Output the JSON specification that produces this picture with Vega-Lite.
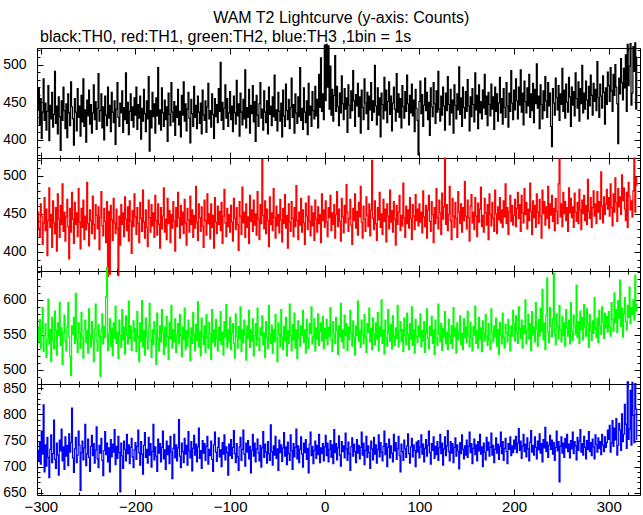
{
"$schema":"https://vega.github.io/schema/vega-lite/v6.json",
"background":"white",
"padding":{"left":2,"top":9,"right":3,"bottom":2},
"spacing":0,
"bounds":"flush",
"title":{"text":"WAM T2 Lightcurve (y-axis: Counts)","anchor":"start","frame":"bounds","dx":211,"font":"Liberation Sans","fontSize":16,"fontWeight":"normal","color":"#000000","offset":3},
"config":{"font":"Liberation Sans","view":{"stroke":"#000000","strokeWidth":1},"axis":{"labelFont":"Liberation Sans","labelColor":"#000000","tickColor":"#000000","tickWidth":1,"grid":false,"domain":false},"concat":{"spacing":0}},
"data":{"values":[
{"t":-303,"a":441,"b":452,"c":561,"d":731},{"t":-302,"a":468,"b":431,"c":540,"d":712},{"t":-301,"a":420,"b":419,"c":572,"d":748},{"t":-300,"a":455,"b":463,"c":531,"d":705},{"t":-299,"a":402,"b":447,"c":553,"d":768},{"t":-298,"a":437,"b":410,"c":589,"d":724},{"t":-297,"a":481,"b":438,"c":526,"d":818},{"t":-296,"a":426,"b":471,"c":549,"d":690},{"t":-295,"a":449,"b":428,"c":566,"d":742},{"t":-294,"a":413,"b":456,"c":518,"d":701},
{"t":-293,"a":438,"b":395,"c":544,"d":756},{"t":-292,"a":472,"b":441,"c":601,"d":718},{"t":-291,"a":399,"b":484,"c":537,"d":679},{"t":-290,"a":446,"b":432,"c":558,"d":733},{"t":-289,"a":428,"b":449,"c":512,"d":761},{"t":-288,"a":463,"b":406,"c":575,"d":708},{"t":-287,"a":417,"b":467,"c":543,"d":725},{"t":-286,"a":434,"b":438,"c":530,"d":789},{"t":-285,"a":491,"b":424,"c":584,"d":714},{"t":-284,"a":422,"b":458,"c":556,"d":697},
{"t":-283,"a":445,"b":401,"c":521,"d":745},{"t":-282,"a":408,"b":476,"c":567,"d":722},{"t":-281,"a":457,"b":443,"c":549,"d":684},{"t":-280,"a":431,"b":419,"c":596,"d":751},{"t":-279,"a":386,"b":461,"c":535,"d":730},{"t":-278,"a":452,"b":436,"c":560,"d":772},{"t":-277,"a":426,"b":489,"c":508,"d":711},{"t":-276,"a":470,"b":427,"c":553,"d":738},{"t":-275,"a":439,"b":452,"c":578,"d":695},{"t":-274,"a":415,"b":414,"c":542,"d":757},
{"t":-273,"a":448,"b":446,"c":527,"d":720},{"t":-272,"a":403,"b":469,"c":561,"d":741},{"t":-271,"a":461,"b":433,"c":596,"d":702},{"t":-270,"a":436,"b":391,"c":547,"d":763},{"t":-269,"a":419,"b":457,"c":519,"d":728},{"t":-268,"a":477,"b":426,"c":492,"d":746},{"t":-267,"a":444,"b":478,"c":563,"d":812},{"t":-266,"a":428,"b":443,"c":551,"d":717},{"t":-265,"a":393,"b":411,"c":575,"d":689},{"t":-264,"a":455,"b":465,"c":538,"d":734},
{"t":-263,"a":437,"b":436,"c":609,"d":756},{"t":-262,"a":412,"b":451,"c":544,"d":708},{"t":-261,"a":468,"b":420,"c":525,"d":722},{"t":-260,"a":430,"b":483,"c":567,"d":768},{"t":-259,"a":445,"b":439,"c":553,"d":741},{"t":-258,"a":405,"b":404,"c":531,"d":655},{"t":-257,"a":459,"b":457,"c":582,"d":727},{"t":-256,"a":424,"b":432,"c":546,"d":749},{"t":-255,"a":481,"b":468,"c":517,"d":713},{"t":-254,"a":418,"b":416,"c":558,"d":736},
{"t":-253,"a":440,"b":447,"c":571,"d":781},{"t":-252,"a":397,"b":429,"c":539,"d":702},{"t":-251,"a":453,"b":491,"c":556,"d":724},{"t":-250,"a":432,"b":437,"c":524,"d":753},{"t":-249,"a":466,"b":408,"c":587,"d":718},{"t":-248,"a":421,"b":455,"c":550,"d":691},{"t":-247,"a":447,"b":441,"c":533,"d":739},{"t":-246,"a":409,"b":424,"c":569,"d":760},{"t":-245,"a":436,"b":473,"c":545,"d":721},{"t":-244,"a":473,"b":436,"c":512,"d":744},
{"t":-243,"a":427,"b":417,"c":558,"d":707},{"t":-242,"a":451,"b":462,"c":594,"d":732},{"t":-241,"a":414,"b":448,"c":541,"d":776},{"t":-240,"a":442,"b":430,"c":527,"d":715},{"t":-239,"a":488,"b":459,"c":565,"d":698},{"t":-238,"a":425,"b":403,"c":548,"d":741},{"t":-237,"a":439,"b":445,"c":491,"d":726},{"t":-236,"a":461,"b":479,"c":556,"d":754},{"t":-235,"a":416,"b":434,"c":580,"d":712},{"t":-234,"a":444,"b":421,"c":537,"d":683},
{"t":-233,"a":400,"b":457,"c":562,"d":731},{"t":-232,"a":458,"b":440,"c":546,"d":767},{"t":-231,"a":433,"b":412,"c":604,"d":723},{"t":-230,"a":419,"b":466,"c":646,"d":745},{"t":-229,"a":470,"b":368,"c":528,"d":709},{"t":-228,"a":429,"b":453,"c":551,"d":736},{"t":-227,"a":446,"b":371,"c":573,"d":690},{"t":-226,"a":411,"b":461,"c":534,"d":752},{"t":-225,"a":463,"b":442,"c":559,"d":719},{"t":-224,"a":437,"b":415,"c":520,"d":743},
{"t":-223,"a":423,"b":470,"c":567,"d":728},{"t":-222,"a":452,"b":438,"c":545,"d":771},{"t":-221,"a":394,"b":424,"c":591,"d":704},{"t":-220,"a":441,"b":456,"c":538,"d":739},{"t":-219,"a":476,"b":431,"c":554,"d":716},{"t":-218,"a":430,"b":369,"c":516,"d":758},{"t":-217,"a":418,"b":447,"c":571,"d":727},{"t":-216,"a":449,"b":409,"c":549,"d":652},{"t":-215,"a":436,"b":462,"c":532,"d":745},{"t":-214,"a":465,"b":436,"c":586,"d":721},
{"t":-213,"a":410,"b":451,"c":543,"d":697},{"t":-212,"a":443,"b":420,"c":561,"d":749},{"t":-211,"a":427,"b":472,"c":523,"d":733},{"t":-210,"a":489,"b":443,"c":577,"d":711},{"t":-209,"a":422,"b":428,"c":550,"d":762},{"t":-208,"a":450,"b":459,"c":537,"d":725},{"t":-207,"a":407,"b":414,"c":598,"d":742},{"t":-206,"a":438,"b":467,"c":545,"d":706},{"t":-205,"a":461,"b":440,"c":563,"d":737},{"t":-204,"a":426,"b":398,"c":528,"d":754},
{"t":-203,"a":444,"b":454,"c":555,"d":719},{"t":-202,"a":417,"b":433,"c":570,"d":698},{"t":-201,"a":456,"b":476,"c":541,"d":732},{"t":-200,"a":433,"b":446,"c":559,"d":746},{"t":-199,"a":470,"b":423,"c":526,"d":714},{"t":-198,"a":414,"b":458,"c":583,"d":739},{"t":-197,"a":447,"b":437,"c":548,"d":770},{"t":-196,"a":429,"b":412,"c":512,"d":727},{"t":-195,"a":458,"b":465,"c":567,"d":703},{"t":-194,"a":401,"b":444,"c":541,"d":748},
{"t":-193,"a":442,"b":427,"c":599,"d":724},{"t":-192,"a":425,"b":481,"c":533,"d":686},{"t":-191,"a":467,"b":439,"c":556,"d":741},{"t":-190,"a":435,"b":418,"c":521,"d":765},{"t":-189,"a":411,"b":455,"c":574,"d":718},{"t":-188,"a":452,"b":432,"c":547,"d":733},{"t":-187,"a":428,"b":407,"c":530,"d":707},{"t":-186,"a":484,"b":468,"c":562,"d":756},{"t":-185,"a":385,"b":445,"c":595,"d":722},{"t":-184,"a":439,"b":426,"c":543,"d":744},
{"t":-183,"a":416,"b":462,"c":518,"d":699},{"t":-182,"a":463,"b":434,"c":557,"d":729},{"t":-181,"a":431,"b":451,"c":536,"d":781},{"t":-180,"a":448,"b":419,"c":569,"d":713},{"t":-179,"a":409,"b":474,"c":552,"d":738},{"t":-178,"a":456,"b":441,"c":508,"d":720},{"t":-177,"a":432,"b":422,"c":581,"d":691},{"t":-176,"a":496,"b":463,"c":545,"d":753},{"t":-175,"a":421,"b":436,"c":527,"d":726},{"t":-174,"a":440,"b":405,"c":563,"d":744},
{"t":-173,"a":413,"b":458,"c":540,"d":709},{"t":-172,"a":469,"b":430,"c":586,"d":737},{"t":-171,"a":436,"b":447,"c":553,"d":768},{"t":-170,"a":418,"b":484,"c":522,"d":715},{"t":-169,"a":453,"b":426,"c":561,"d":732},{"t":-168,"a":427,"b":443,"c":534,"d":695},{"t":-167,"a":444,"b":416,"c":576,"d":749},{"t":-166,"a":398,"b":470,"c":548,"d":723},{"t":-165,"a":462,"b":437,"c":515,"d":740},{"t":-164,"a":434,"b":454,"c":568,"d":706},
{"t":-163,"a":419,"b":412,"c":544,"d":758},{"t":-162,"a":476,"b":449,"c":592,"d":728},{"t":-161,"a":437,"b":431,"c":531,"d":677},{"t":-160,"a":424,"b":466,"c":557,"d":735},{"t":-159,"a":451,"b":440,"c":540,"d":762},{"t":-158,"a":406,"b":401,"c":573,"d":717},{"t":-157,"a":445,"b":458,"c":525,"d":742},{"t":-156,"a":430,"b":433,"c":550,"d":711},{"t":-155,"a":467,"b":478,"c":566,"d":736},{"t":-154,"a":420,"b":445,"c":537,"d":790},
{"t":-153,"a":438,"b":418,"c":579,"d":720},{"t":-152,"a":404,"b":461,"c":549,"d":698},{"t":-151,"a":459,"b":435,"c":519,"d":745},{"t":-150,"a":433,"b":452,"c":561,"d":729},{"t":-149,"a":477,"b":424,"c":543,"d":708},{"t":-148,"a":425,"b":469,"c":588,"d":754},{"t":-147,"a":448,"b":438,"c":529,"d":724},{"t":-146,"a":412,"b":409,"c":556,"d":741},{"t":-145,"a":441,"b":457,"c":534,"d":703},{"t":-144,"a":463,"b":442,"c":571,"d":767},
{"t":-143,"a":429,"b":426,"c":547,"d":730},{"t":-142,"a":396,"b":473,"c":513,"d":717},{"t":-141,"a":454,"b":436,"c":560,"d":748},{"t":-140,"a":435,"b":455,"c":538,"d":692},{"t":-139,"a":418,"b":419,"c":582,"d":735},{"t":-138,"a":471,"b":448,"c":551,"d":760},{"t":-137,"a":430,"b":431,"c":527,"d":722},{"t":-136,"a":446,"b":486,"c":565,"d":743},{"t":-135,"a":415,"b":439,"c":542,"d":709},{"t":-134,"a":458,"b":415,"c":597,"d":738},
{"t":-133,"a":437,"b":463,"c":533,"d":774},{"t":-132,"a":422,"b":445,"c":555,"d":716},{"t":-131,"a":449,"b":427,"c":520,"d":731},{"t":-130,"a":408,"b":459,"c":574,"d":697},{"t":-129,"a":466,"b":434,"c":548,"d":750},{"t":-128,"a":433,"b":406,"c":536,"d":726},{"t":-127,"a":426,"b":468,"c":563,"d":744},{"t":-126,"a":452,"b":441,"c":525,"d":712},{"t":-125,"a":410,"b":422,"c":579,"d":739},{"t":-124,"a":444,"b":476,"c":546,"d":758},
{"t":-123,"a":475,"b":437,"c":531,"d":705},{"t":-122,"a":428,"b":450,"c":568,"d":733},{"t":-121,"a":439,"b":417,"c":552,"d":721},{"t":-120,"a":417,"b":463,"c":515,"d":749},{"t":-119,"a":461,"b":432,"c":586,"d":714},{"t":-118,"a":434,"b":448,"c":540,"d":691},{"t":-117,"a":402,"b":405,"c":557,"d":742},{"t":-116,"a":455,"b":471,"c":534,"d":766},{"t":-115,"a":431,"b":439,"c":572,"d":728},{"t":-114,"a":447,"b":424,"c":545,"d":710},
{"t":-113,"a":423,"b":460,"c":527,"d":737},{"t":-112,"a":468,"b":436,"c":561,"d":755},{"t":-111,"a":438,"b":453,"c":542,"d":719},{"t":-110,"a":503,"b":428,"c":583,"d":732},{"t":-109,"a":426,"b":465,"c":536,"d":700},{"t":-108,"a":450,"b":411,"c":554,"d":746},{"t":-107,"a":414,"b":447,"c":521,"d":724},{"t":-106,"a":442,"b":482,"c":569,"d":761},{"t":-105,"a":473,"b":438,"c":547,"d":713},{"t":-104,"a":429,"b":420,"c":593,"d":738},
{"t":-103,"a":455,"b":457,"c":532,"d":727},{"t":-102,"a":418,"b":433,"c":558,"d":684},{"t":-101,"a":436,"b":449,"c":540,"d":743},{"t":-100,"a":464,"b":426,"c":575,"d":721},{"t":-99,"a":427,"b":461,"c":529,"d":752},{"t":-98,"a":445,"b":439,"c":553,"d":716},{"t":-97,"a":411,"b":414,"c":566,"d":737},{"t":-96,"a":458,"b":470,"c":538,"d":769},{"t":-95,"a":436,"b":444,"c":517,"d":725},{"t":-94,"a":421,"b":429,"c":580,"d":708},
{"t":-93,"a":479,"b":458,"c":548,"d":744},{"t":-92,"a":432,"b":436,"c":531,"d":719},{"t":-91,"a":448,"b":402,"c":562,"d":693},{"t":-90,"a":405,"b":466,"c":544,"d":738},{"t":-89,"a":462,"b":447,"c":590,"d":756},{"t":-88,"a":437,"b":423,"c":526,"d":712},{"t":-87,"a":420,"b":485,"c":557,"d":733},{"t":-86,"a":454,"b":438,"c":539,"d":770},{"t":-85,"a":428,"b":452,"c":571,"d":724},{"t":-84,"a":493,"b":419,"c":550,"d":701},
{"t":-83,"a":416,"b":463,"c":514,"d":745},{"t":-82,"a":443,"b":432,"c":563,"d":728},{"t":-81,"a":430,"b":446,"c":545,"d":750},{"t":-80,"a":467,"b":411,"c":585,"d":715},{"t":-79,"a":409,"b":474,"c":532,"d":739},{"t":-78,"a":446,"b":440,"c":557,"d":688},{"t":-77,"a":435,"b":455,"c":541,"d":731},{"t":-76,"a":472,"b":427,"c":573,"d":762},{"t":-75,"a":424,"b":468,"c":520,"d":720},{"t":-74,"a":451,"b":435,"c":549,"d":745},
{"t":-73,"a":398,"b":450,"c":566,"d":709},{"t":-72,"a":459,"b":422,"c":535,"d":734},{"t":-71,"a":433,"b":479,"c":588,"d":753},{"t":-70,"a":418,"b":443,"c":544,"d":726},{"t":-69,"a":448,"b":416,"c":528,"d":711},{"t":-68,"a":476,"b":462,"c":560,"d":741},{"t":-67,"a":429,"b":437,"c":549,"d":699},{"t":-66,"a":441,"b":521,"c":577,"d":736},{"t":-65,"a":413,"b":448,"c":536,"d":767},{"t":-64,"a":465,"b":430,"c":553,"d":718},
{"t":-63,"a":437,"b":467,"c":518,"d":743},{"t":-62,"a":423,"b":424,"c":569,"d":728},{"t":-61,"a":452,"b":456,"c":546,"d":707},{"t":-60,"a":408,"b":441,"c":531,"d":748},{"t":-59,"a":470,"b":407,"c":592,"d":725},{"t":-58,"a":434,"b":472,"c":551,"d":712},{"t":-57,"a":445,"b":436,"c":538,"d":780},{"t":-56,"a":419,"b":451,"c":564,"d":729},{"t":-55,"a":457,"b":428,"c":524,"d":703},{"t":-54,"a":431,"b":483,"c":557,"d":740},
{"t":-53,"a":486,"b":445,"c":540,"d":722},{"t":-52,"a":426,"b":418,"c":579,"d":758},{"t":-51,"a":440,"b":460,"c":545,"d":716},{"t":-50,"a":412,"b":434,"c":512,"d":734},{"t":-49,"a":463,"b":449,"c":567,"d":693},{"t":-48,"a":438,"b":425,"c":550,"d":751},{"t":-47,"a":425,"b":469,"c":533,"d":727},{"t":-46,"a":449,"b":442,"c":586,"d":742},{"t":-45,"a":404,"b":413,"c":547,"d":710},{"t":-44,"a":466,"b":457,"c":529,"d":736},
{"t":-43,"a":432,"b":437,"c":562,"d":765},{"t":-42,"a":418,"b":475,"c":541,"d":720},{"t":-41,"a":474,"b":431,"c":575,"d":738},{"t":-40,"a":439,"b":448,"c":520,"d":704},{"t":-39,"a":427,"b":405,"c":556,"d":747},{"t":-38,"a":454,"b":463,"c":538,"d":725},{"t":-37,"a":415,"b":439,"c":594,"d":712},{"t":-36,"a":443,"b":427,"c":549,"d":761},{"t":-35,"a":482,"b":466,"c":527,"d":730},{"t":-34,"a":430,"b":444,"c":565,"d":695},
{"t":-33,"a":447,"b":420,"c":543,"d":744},{"t":-32,"a":409,"b":458,"c":581,"d":719},{"t":-31,"a":461,"b":433,"c":531,"d":737},{"t":-30,"a":436,"b":487,"c":557,"d":772},{"t":-29,"a":422,"b":441,"c":516,"d":715},{"t":-28,"a":457,"b":416,"c":570,"d":740},{"t":-27,"a":431,"b":452,"c":546,"d":708},{"t":-26,"a":496,"b":435,"c":534,"d":733},{"t":-25,"a":426,"b":470,"c":563,"d":757},{"t":-24,"a":442,"b":426,"c":549,"d":724},
{"t":-23,"a":414,"b":455,"c":585,"d":699},{"t":-22,"a":469,"b":438,"c":539,"d":745},{"t":-21,"a":437,"b":410,"c":557,"d":727},{"t":-20,"a":423,"b":464,"c":524,"d":752},{"t":-19,"a":452,"b":447,"c":572,"d":714},{"t":-18,"a":407,"b":429,"c":545,"d":735},{"t":-17,"a":475,"b":473,"c":531,"d":688},{"t":-16,"a":433,"b":440,"c":566,"d":743},{"t":-15,"a":445,"b":421,"c":552,"d":766},{"t":-14,"a":418,"b":460,"c":590,"d":721},
{"t":-13,"a":464,"b":434,"c":537,"d":739},{"t":-12,"a":439,"b":451,"c":548,"d":706},{"t":-11,"a":428,"b":415,"c":573,"d":731},{"t":-10,"a":471,"b":468,"c":527,"d":749},{"t":-9,"a":432,"b":443,"c":560,"d":716},{"t":-8,"a":454,"b":426,"c":544,"d":741},{"t":-7,"a":416,"b":459,"c":580,"d":723},{"t":-6,"a":487,"b":437,"c":535,"d":762},{"t":-5,"a":443,"b":449,"c":555,"d":708},{"t":-4,"a":509,"b":412,"c":567,"d":736},
{"t":-3,"a":438,"b":476,"c":541,"d":725},{"t":-2,"a":461,"b":441,"c":576,"d":744},{"t":-1,"a":427,"b":455,"c":530,"d":711},{"t":0,"a":526,"b":432,"c":559,"d":738},{"t":1,"a":452,"b":467,"c":545,"d":760},{"t":2,"a":527,"b":439,"c":572,"d":721},{"t":3,"a":470,"b":420,"c":536,"d":745},{"t":4,"a":525,"b":458,"c":561,"d":709},{"t":5,"a":441,"b":445,"c":548,"d":733},{"t":6,"a":498,"b":474,"c":589,"d":750},
{"t":7,"a":433,"b":428,"c":543,"d":718},{"t":8,"a":467,"b":451,"c":526,"d":742},{"t":9,"a":425,"b":436,"c":569,"d":706},{"t":10,"a":459,"b":462,"c":551,"d":771},{"t":11,"a":512,"b":418,"c":538,"d":727},{"t":12,"a":438,"b":449,"c":575,"d":744},{"t":13,"a":471,"b":479,"c":556,"d":713},{"t":14,"a":444,"b":433,"c":522,"d":736},{"t":15,"a":419,"b":456,"c":563,"d":759},{"t":16,"a":462,"b":440,"c":547,"d":722},
{"t":17,"a":436,"b":414,"c":595,"d":701},{"t":18,"a":485,"b":470,"c":540,"d":748},{"t":19,"a":448,"b":446,"c":557,"d":729},{"t":20,"a":427,"b":425,"c":531,"d":740},{"t":21,"a":468,"b":461,"c":578,"d":717},{"t":22,"a":441,"b":438,"c":549,"d":764},{"t":23,"a":456,"b":488,"c":566,"d":734},{"t":24,"a":410,"b":452,"c":528,"d":712},{"t":25,"a":473,"b":427,"c":561,"d":747},{"t":26,"a":446,"b":444,"c":543,"d":725},
{"t":27,"a":429,"b":469,"c":585,"d":693},{"t":28,"a":465,"b":435,"c":552,"d":738},{"t":29,"a":439,"b":410,"c":534,"d":755},{"t":30,"a":492,"b":457,"c":570,"d":720},{"t":31,"a":452,"b":441,"c":547,"d":743},{"t":32,"a":418,"b":476,"c":521,"d":729},{"t":33,"a":460,"b":431,"c":563,"d":708},{"t":34,"a":445,"b":453,"c":549,"d":752},{"t":35,"a":475,"b":422,"c":598,"d":726},{"t":36,"a":431,"b":465,"c":541,"d":741},
{"t":37,"a":457,"b":446,"c":556,"d":715},{"t":38,"a":409,"b":486,"c":532,"d":737},{"t":39,"a":466,"b":439,"c":571,"d":766},{"t":40,"a":443,"b":418,"c":550,"d":722},{"t":41,"a":427,"b":460,"c":537,"d":745},{"t":42,"a":481,"b":443,"c":579,"d":704},{"t":43,"a":449,"b":427,"c":546,"d":731},{"t":44,"a":435,"b":472,"c":525,"d":758},{"t":45,"a":463,"b":448,"c":566,"d":718},{"t":46,"a":414,"b":433,"c":553,"d":740},
{"t":47,"a":458,"b":463,"c":588,"d":727},{"t":48,"a":440,"b":421,"c":540,"d":697},{"t":49,"a":476,"b":455,"c":559,"d":749},{"t":50,"a":426,"b":520,"c":529,"d":734},{"t":51,"a":452,"b":444,"c":574,"d":713},{"t":52,"a":437,"b":429,"c":551,"d":756},{"t":53,"a":499,"b":467,"c":536,"d":724},{"t":54,"a":445,"b":437,"c":567,"d":742},{"t":55,"a":420,"b":415,"c":544,"d":707},{"t":56,"a":469,"b":458,"c":582,"d":733},
{"t":57,"a":433,"b":442,"c":527,"d":761},{"t":58,"a":456,"b":478,"c":561,"d":719},{"t":59,"a":404,"b":432,"c":548,"d":746},{"t":60,"a":462,"b":450,"c":600,"d":728},{"t":61,"a":447,"b":423,"c":538,"d":711},{"t":62,"a":428,"b":469,"c":557,"d":739},{"t":63,"a":483,"b":440,"c":523,"d":768},{"t":64,"a":439,"b":456,"c":571,"d":723},{"t":65,"a":466,"b":413,"c":546,"d":744},{"t":66,"a":423,"b":463,"c":534,"d":700},
{"t":67,"a":451,"b":447,"c":586,"d":737},{"t":68,"a":477,"b":430,"c":552,"d":753},{"t":69,"a":434,"b":481,"c":541,"d":717},{"t":70,"a":458,"b":439,"c":565,"d":740},{"t":71,"a":412,"b":454,"c":530,"d":726},{"t":72,"a":449,"b":426,"c":577,"d":709},{"t":73,"a":470,"b":466,"c":548,"d":762},{"t":74,"a":441,"b":443,"c":535,"d":730},{"t":75,"a":425,"b":409,"c":560,"d":746},{"t":76,"a":488,"b":461,"c":545,"d":714},
{"t":77,"a":437,"b":436,"c":592,"d":735},{"t":78,"a":461,"b":452,"c":533,"d":758},{"t":79,"a":430,"b":474,"c":555,"d":721},{"t":80,"a":455,"b":428,"c":569,"d":690},{"t":81,"a":416,"b":448,"c":540,"d":743},{"t":82,"a":472,"b":434,"c":558,"d":729},{"t":83,"a":444,"b":490,"c":526,"d":712},{"t":84,"a":429,"b":445,"c":574,"d":751},{"t":85,"a":464,"b":419,"c":549,"d":734},{"t":86,"a":438,"b":460,"c":536,"d":718},
{"t":87,"a":486,"b":437,"c":581,"d":740},{"t":88,"a":448,"b":455,"c":551,"d":763},{"t":89,"a":420,"b":431,"c":529,"d":725},{"t":90,"a":459,"b":471,"c":566,"d":707},{"t":91,"a":436,"b":444,"c":544,"d":738},{"t":92,"a":474,"b":416,"c":590,"d":754},{"t":93,"a":432,"b":462,"c":535,"d":719},{"t":94,"a":453,"b":447,"c":557,"d":742},{"t":95,"a":411,"b":429,"c":524,"d":731},{"t":96,"a":467,"b":475,"c":572,"d":700},
{"t":97,"a":442,"b":441,"c":548,"d":747},{"t":98,"a":426,"b":456,"c":539,"d":728},{"t":99,"a":380,"b":434,"c":563,"d":750},{"t":100,"a":451,"b":463,"c":547,"d":717},{"t":101,"a":478,"b":439,"c":580,"d":738},{"t":102,"a":435,"b":452,"c":533,"d":761},{"t":103,"a":460,"b":425,"c":556,"d":724},{"t":104,"a":418,"b":480,"c":541,"d":743},{"t":105,"a":446,"b":446,"c":569,"d":709},{"t":106,"a":482,"b":433,"c":525,"d":735},
{"t":107,"a":439,"b":461,"c":552,"d":752},{"t":108,"a":463,"b":418,"c":587,"d":720},{"t":109,"a":427,"b":455,"c":545,"d":741},{"t":110,"a":450,"b":474,"c":530,"d":768},{"t":111,"a":406,"b":440,"c":562,"d":727},{"t":112,"a":469,"b":427,"c":549,"d":705},{"t":113,"a":444,"b":466,"c":576,"d":744},{"t":114,"a":431,"b":449,"c":538,"d":731},{"t":115,"a":476,"b":412,"c":557,"d":757},{"t":116,"a":448,"b":458,"c":522,"d":716},
{"t":117,"a":422,"b":437,"c":571,"d":739},{"t":118,"a":465,"b":483,"c":546,"d":723},{"t":119,"a":437,"b":445,"c":535,"d":748},{"t":120,"a":491,"b":430,"c":594,"d":712},{"t":121,"a":441,"b":468,"c":551,"d":736},{"t":122,"a":425,"b":451,"c":540,"d":762},{"t":123,"a":458,"b":423,"c":566,"d":725},{"t":124,"a":433,"b":477,"c":528,"d":745},{"t":125,"a":470,"b":443,"c":559,"d":703},{"t":126,"a":445,"b":459,"c":547,"d":734},
{"t":127,"a":413,"b":523,"c":583,"d":757},{"t":128,"a":462,"b":436,"c":537,"d":721},{"t":129,"a":439,"b":462,"c":554,"d":740},{"t":130,"a":484,"b":428,"c":529,"d":769},{"t":131,"a":447,"b":449,"c":572,"d":729},{"t":132,"a":420,"b":486,"c":549,"d":711},{"t":133,"a":467,"b":441,"c":538,"d":748},{"t":134,"a":436,"b":416,"c":563,"d":726},{"t":135,"a":453,"b":470,"c":531,"d":744},{"t":136,"a":409,"b":447,"c":589,"d":708},
{"t":137,"a":473,"b":432,"c":548,"d":737},{"t":138,"a":446,"b":465,"c":560,"d":755},{"t":139,"a":428,"b":444,"c":524,"d":720},{"t":140,"a":461,"b":419,"c":567,"d":742},{"t":141,"a":440,"b":479,"c":543,"d":730},{"t":142,"a":497,"b":452,"c":555,"d":696},{"t":143,"a":434,"b":437,"c":577,"d":746},{"t":144,"a":456,"b":463,"c":536,"d":725},{"t":145,"a":418,"b":426,"c":552,"d":761},{"t":146,"a":470,"b":458,"c":529,"d":733},
{"t":147,"a":443,"b":441,"c":573,"d":715},{"t":148,"a":429,"b":492,"c":546,"d":740},{"t":149,"a":464,"b":447,"c":561,"d":722},{"t":150,"a":438,"b":430,"c":539,"d":751},{"t":151,"a":480,"b":468,"c":584,"d":718},{"t":152,"a":445,"b":445,"c":550,"d":739},{"t":153,"a":412,"b":414,"c":533,"d":766},{"t":154,"a":457,"b":460,"c":568,"d":727},{"t":155,"a":431,"b":475,"c":546,"d":744},{"t":156,"a":468,"b":438,"c":527,"d":706},
{"t":157,"a":447,"b":452,"c":562,"d":735},{"t":158,"a":424,"b":429,"c":549,"d":753},{"t":159,"a":489,"b":471,"c":591,"d":723},{"t":160,"a":440,"b":447,"c":538,"d":742},{"t":161,"a":459,"b":420,"c":556,"d":711},{"t":162,"a":415,"b":464,"c":531,"d":748},{"t":163,"a":473,"b":439,"c":575,"d":730},{"t":164,"a":436,"b":456,"c":544,"d":762},{"t":165,"a":451,"b":485,"c":560,"d":724},{"t":166,"a":428,"b":433,"c":526,"d":738},
{"t":167,"a":466,"b":448,"c":570,"d":700},{"t":168,"a":442,"b":426,"c":552,"d":745},{"t":169,"a":487,"b":470,"c":541,"d":728},{"t":170,"a":434,"b":451,"c":579,"d":713},{"t":171,"a":458,"b":435,"c":548,"d":756},{"t":172,"a":419,"b":462,"c":535,"d":731},{"t":173,"a":463,"b":416,"c":566,"d":747},{"t":174,"a":447,"b":476,"c":543,"d":720},{"t":175,"a":432,"b":449,"c":529,"d":737},{"t":176,"a":474,"b":434,"c":587,"d":764},
{"t":177,"a":441,"b":465,"c":554,"d":722},{"t":178,"a":457,"b":444,"c":540,"d":741},{"t":179,"a":414,"b":427,"c":563,"d":708},{"t":180,"a":470,"b":481,"c":547,"d":733},{"t":181,"a":438,"b":450,"c":574,"d":755},{"t":182,"a":461,"b":424,"c":534,"d":726},{"t":183,"a":425,"b":459,"c":558,"d":743},{"t":184,"a":449,"b":442,"c":522,"d":714},{"t":185,"a":483,"b":471,"c":568,"d":739},{"t":186,"a":436,"b":438,"c":550,"d":766},
{"t":187,"a":455,"b":455,"c":537,"d":725},{"t":188,"a":421,"b":432,"c":581,"d":748},{"t":189,"a":468,"b":467,"c":546,"d":712},{"t":190,"a":443,"b":446,"c":531,"d":735},{"t":191,"a":430,"b":489,"c":565,"d":754},{"t":192,"a":476,"b":437,"c":553,"d":729},{"t":193,"a":445,"b":458,"c":540,"d":706},{"t":194,"a":417,"b":423,"c":572,"d":744},{"t":195,"a":462,"b":452,"c":549,"d":733},{"t":196,"a":438,"b":474,"c":527,"d":757},
{"t":197,"a":492,"b":440,"c":563,"d":721},{"t":198,"a":449,"b":461,"c":548,"d":740},{"t":199,"a":427,"b":435,"c":585,"d":727},{"t":200,"a":466,"b":448,"c":566,"d":751},{"t":201,"a":440,"b":469,"c":541,"d":734},{"t":202,"a":481,"b":433,"c":577,"d":758},{"t":203,"a":452,"b":457,"c":553,"d":727},{"t":204,"a":428,"b":478,"c":538,"d":745},{"t":205,"a":470,"b":444,"c":590,"d":773},{"t":206,"a":446,"b":462,"c":559,"d":731},
{"t":207,"a":493,"b":427,"c":545,"d":749},{"t":208,"a":437,"b":474,"c":571,"d":716},{"t":209,"a":462,"b":451,"c":531,"d":740},{"t":210,"a":420,"b":438,"c":563,"d":762},{"t":211,"a":478,"b":483,"c":552,"d":729},{"t":212,"a":451,"b":449,"c":600,"d":743},{"t":213,"a":436,"b":465,"c":537,"d":719},{"t":214,"a":469,"b":430,"c":556,"d":755},{"t":215,"a":445,"b":456,"c":579,"d":734},{"t":216,"a":487,"b":441,"c":544,"d":711},
{"t":217,"a":430,"b":490,"c":566,"d":747},{"t":218,"a":461,"b":453,"c":528,"d":769},{"t":219,"a":439,"b":423,"c":583,"d":728},{"t":220,"a":475,"b":467,"c":550,"d":741},{"t":221,"a":423,"b":445,"c":561,"d":722},{"t":222,"a":467,"b":461,"c":540,"d":757},{"t":223,"a":448,"b":432,"c":596,"d":737},{"t":224,"a":501,"b":476,"c":558,"d":715},{"t":225,"a":442,"b":452,"c":534,"d":749},{"t":226,"a":458,"b":437,"c":572,"d":732},
{"t":227,"a":415,"b":469,"c":548,"d":763},{"t":228,"a":473,"b":447,"c":588,"d":726},{"t":229,"a":447,"b":418,"c":555,"d":744},{"t":230,"a":428,"b":481,"c":615,"d":709},{"t":231,"a":465,"b":450,"c":543,"d":752},{"t":232,"a":439,"b":466,"c":567,"d":736},{"t":233,"a":484,"b":435,"c":529,"d":775},{"t":234,"a":452,"b":459,"c":578,"d":729},{"t":235,"a":430,"b":444,"c":631,"d":747},{"t":236,"a":476,"b":486,"c":554,"d":718},
{"t":237,"a":445,"b":431,"c":539,"d":741},{"t":238,"a":462,"b":463,"c":589,"d":760},{"t":239,"a":418,"b":448,"c":562,"d":733},{"t":240,"a":391,"b":474,"c":547,"d":751},{"t":241,"a":468,"b":440,"c":573,"d":724},{"t":242,"a":449,"b":457,"c":638,"d":746},{"t":243,"a":433,"b":428,"c":551,"d":712},{"t":244,"a":482,"b":470,"c":536,"d":737},{"t":245,"a":456,"b":453,"c":580,"d":768},{"t":246,"a":440,"b":437,"c":563,"d":730},
{"t":247,"a":472,"b":489,"c":545,"d":748},{"t":248,"a":426,"b":522,"c":592,"d":671},{"t":249,"a":461,"b":446,"c":557,"d":739},{"t":250,"a":447,"b":463,"c":540,"d":757},{"t":251,"a":495,"b":433,"c":576,"d":726},{"t":252,"a":438,"b":478,"c":549,"d":745},{"t":253,"a":466,"b":450,"c":567,"d":718},{"t":254,"a":429,"b":466,"c":534,"d":754},{"t":255,"a":474,"b":441,"c":586,"d":736},{"t":256,"a":450,"b":458,"c":560,"d":762},
{"t":257,"a":437,"b":427,"c":548,"d":729},{"t":258,"a":483,"b":484,"c":571,"d":743},{"t":259,"a":457,"b":451,"c":537,"d":717},{"t":260,"a":418,"b":470,"c":596,"d":750},{"t":261,"a":470,"b":445,"c":555,"d":734},{"t":262,"a":446,"b":459,"c":542,"d":766},{"t":263,"a":464,"b":432,"c":578,"d":725},{"t":264,"a":432,"b":477,"c":563,"d":748},{"t":265,"a":489,"b":452,"c":551,"d":740},{"t":266,"a":455,"b":440,"c":621,"d":713},
{"t":267,"a":442,"b":465,"c":546,"d":756},{"t":268,"a":477,"b":437,"c":569,"d":731},{"t":269,"a":425,"b":482,"c":538,"d":749},{"t":270,"a":468,"b":455,"c":584,"d":771},{"t":271,"a":448,"b":429,"c":557,"d":728},{"t":272,"a":499,"b":468,"c":575,"d":744},{"t":273,"a":436,"b":450,"c":543,"d":722},{"t":274,"a":462,"b":474,"c":593,"d":758},{"t":275,"a":441,"b":441,"c":561,"d":737},{"t":276,"a":478,"b":461,"c":548,"d":715},
{"t":277,"a":453,"b":436,"c":587,"d":750},{"t":278,"a":428,"b":495,"c":566,"d":733},{"t":279,"a":471,"b":453,"c":532,"d":767},{"t":280,"a":445,"b":444,"c":579,"d":729},{"t":281,"a":486,"b":471,"c":556,"d":746},{"t":282,"a":459,"b":432,"c":542,"d":721},{"t":283,"a":433,"b":458,"c":570,"d":753},{"t":284,"a":475,"b":480,"c":552,"d":738},{"t":285,"a":451,"b":447,"c":603,"d":715},{"t":286,"a":467,"b":463,"c":559,"d":761},
{"t":287,"a":439,"b":437,"c":546,"d":742},{"t":288,"a":504,"b":479,"c":574,"d":728},{"t":289,"a":456,"b":452,"c":539,"d":755},{"t":290,"a":430,"b":466,"c":585,"d":735},{"t":291,"a":474,"b":443,"c":563,"d":748},{"t":292,"a":458,"b":505,"c":551,"d":723},{"t":293,"a":442,"b":460,"c":590,"d":762},{"t":294,"a":485,"b":438,"c":568,"d":741},{"t":295,"a":463,"b":472,"c":545,"d":729},{"t":296,"a":421,"b":449,"c":581,"d":757},
{"t":297,"a":469,"b":463,"c":560,"d":737},{"t":298,"a":447,"b":482,"c":576,"d":746},{"t":299,"a":490,"b":456,"c":554,"d":770},{"t":300,"a":472,"b":471,"c":583,"d":752},{"t":301,"a":451,"b":447,"c":561,"d":779},{"t":302,"a":496,"b":489,"c":548,"d":728},{"t":303,"a":465,"b":458,"c":596,"d":745},{"t":304,"a":438,"b":434,"c":572,"d":788},{"t":305,"a":487,"b":476,"c":555,"d":739},{"t":306,"a":459,"b":452,"c":610,"d":774},
{"t":307,"a":500,"b":497,"c":567,"d":751},{"t":308,"a":470,"b":465,"c":586,"d":792},{"t":309,"a":448,"b":440,"c":553,"d":722},{"t":310,"a":395,"b":483,"c":599,"d":741},{"t":311,"a":482,"b":459,"c":574,"d":783},{"t":312,"a":461,"b":472,"c":628,"d":770},{"t":313,"a":508,"b":449,"c":562,"d":731},{"t":314,"a":476,"b":501,"c":588,"d":801},{"t":315,"a":453,"b":467,"c":547,"d":748},{"t":316,"a":495,"b":484,"c":580,"d":762},
{"t":317,"a":469,"b":456,"c":603,"d":819},{"t":318,"a":513,"b":441,"c":569,"d":781},{"t":319,"a":438,"b":478,"c":557,"d":735},{"t":320,"a":527,"b":432,"c":592,"d":862},{"t":321,"a":472,"b":491,"c":575,"d":752},{"t":322,"a":498,"b":473,"c":618,"d":772},{"t":323,"a":528,"b":455,"c":566,"d":846},{"t":324,"a":446,"b":467,"c":589,"d":741},{"t":325,"a":462,"b":446,"c":579,"d":861},{"t":326,"a":524,"b":480,"c":600,"d":798},
{"t":327,"a":491,"b":523,"c":571,"d":746},{"t":328,"a":529,"b":452,"c":635,"d":859},{"t":329,"a":441,"b":498,"c":584,"d":810},{"t":330,"a":510,"b":487,"c":593,"d":752}
]},
"vconcat":[
{"width":603,"height":110,
 "title":{"text":"black:TH0, red:TH1, green:TH2, blue:TH3 ,1bin = 1s","anchor":"start","frame":"group","dx":3,"font":"Liberation Sans","fontSize":16,"fontWeight":"normal","color":"#000000","offset":-5},
 "layer":[
  {"mark":{"type":"line","interpolate":"step","color":"#000000","strokeWidth":1.2,"clip":false},
   "encoding":{"x":{"field":"t","type":"quantitative","scale":{"domain":[-304,333],"nice":false,"zero":false},"axis":null},
    "y":{"field":"a","type":"quantitative","scale":{"domain":[376,522],"nice":false,"zero":false},"axis":{"orient":"left","values":[400,450,500],"ticks":false,"labelFontSize":14,"labelPadding":11,"labelOverlap":false,"labelFlush":false,"title":null}}}},
  {"transform":[{"filter":"datum.t == 0"}],"mark":{"type":"point","opacity":0},
   "encoding":{"x":{"field":"t","type":"quantitative","scale":{"domain":[-304,333],"nice":false,"zero":false},"axis":{"orient":"bottom","values":[-300,-200,-100,0,100,200,300],"labels":false,"tickSize":-6,"title":null}},
    "y":{"field":"a","type":"quantitative","scale":{"domain":[376,522],"nice":false,"zero":false},"axis":{"orient":"left","values":[400,450,500],"labels":false,"tickSize":-6,"title":null}}}},
  {"transform":[{"filter":"datum.t == 0"}],"mark":{"type":"point","opacity":0},
   "encoding":{"x":{"field":"t","type":"quantitative","scale":{"domain":[-304,333],"nice":false,"zero":false},"axis":{"orient":"bottom","values":[-300,-280,-260,-240,-220,-200,-180,-160,-140,-120,-100,-80,-60,-40,-20,0,20,40,60,80,100,120,140,160,180,200,220,240,260,280,300,320],"labels":false,"tickSize":-3,"title":null}},
    "y":{"field":"a","type":"quantitative","scale":{"domain":[376,522],"nice":false,"zero":false},"axis":{"orient":"left","values":[380,390,400,410,420,430,440,450,460,470,480,490,500,510,520],"labels":false,"tickSize":-3,"title":null}}}},
  {"transform":[{"filter":"datum.t == 0"}],"mark":{"type":"point","opacity":0},
   "encoding":{"x":{"field":"t","type":"quantitative","scale":{"domain":[-304,333],"nice":false,"zero":false},"axis":{"orient":"top","values":[-300,-200,-100,0,100,200,300],"labels":false,"tickSize":-6,"title":null}},
    "y":{"field":"a","type":"quantitative","scale":{"domain":[376,522],"nice":false,"zero":false},"axis":{"orient":"right","values":[400,450,500],"labels":false,"tickSize":-6,"title":null}}}},
  {"transform":[{"filter":"datum.t == 0"}],"mark":{"type":"point","opacity":0},
   "encoding":{"x":{"field":"t","type":"quantitative","scale":{"domain":[-304,333],"nice":false,"zero":false},"axis":{"orient":"top","values":[-300,-280,-260,-240,-220,-200,-180,-160,-140,-120,-100,-80,-60,-40,-20,0,20,40,60,80,100,120,140,160,180,200,220,240,260,280,300,320],"labels":false,"tickSize":-3,"title":null}},
    "y":{"field":"a","type":"quantitative","scale":{"domain":[376,522],"nice":false,"zero":false},"axis":{"orient":"right","values":[380,390,400,410,420,430,440,450,460,470,480,490,500,510,520],"labels":false,"tickSize":-3,"title":null}}}}
 ],
 "resolve":{"axis":{"x":"independent","y":"independent"}}
},
{"width":603,"height":113,
 "layer":[
  {"mark":{"type":"line","interpolate":"step","color":"#ff0000","strokeWidth":1.2,"clip":false},
   "encoding":{"x":{"field":"t","type":"quantitative","scale":{"domain":[-304,333],"nice":false,"zero":false},"axis":null},
    "y":{"field":"b","type":"quantitative","scale":{"domain":[375,523],"nice":false,"zero":false},"axis":{"orient":"left","values":[400,450,500],"ticks":false,"labelFontSize":14,"labelPadding":11,"labelOverlap":false,"labelFlush":false,"title":null}}}},
  {"transform":[{"filter":"datum.t == 0"}],"mark":{"type":"point","opacity":0},
   "encoding":{"x":{"field":"t","type":"quantitative","scale":{"domain":[-304,333],"nice":false,"zero":false},"axis":{"orient":"bottom","values":[-300,-200,-100,0,100,200,300],"labels":false,"tickSize":-6,"title":null}},
    "y":{"field":"b","type":"quantitative","scale":{"domain":[375,523],"nice":false,"zero":false},"axis":{"orient":"left","values":[400,450,500],"labels":false,"tickSize":-6,"title":null}}}},
  {"transform":[{"filter":"datum.t == 0"}],"mark":{"type":"point","opacity":0},
   "encoding":{"x":{"field":"t","type":"quantitative","scale":{"domain":[-304,333],"nice":false,"zero":false},"axis":{"orient":"bottom","values":[-300,-280,-260,-240,-220,-200,-180,-160,-140,-120,-100,-80,-60,-40,-20,0,20,40,60,80,100,120,140,160,180,200,220,240,260,280,300,320],"labels":false,"tickSize":-3,"title":null}},
    "y":{"field":"b","type":"quantitative","scale":{"domain":[375,523],"nice":false,"zero":false},"axis":{"orient":"left","values":[380,390,400,410,420,430,440,450,460,470,480,490,500,510,520],"labels":false,"tickSize":-3,"title":null}}}},
  {"transform":[{"filter":"datum.t == 0"}],"mark":{"type":"point","opacity":0},
   "encoding":{"x":{"field":"t","type":"quantitative","scale":{"domain":[-304,333],"nice":false,"zero":false},"axis":{"orient":"top","values":[-300,-200,-100,0,100,200,300],"labels":false,"tickSize":-6,"title":null}},
    "y":{"field":"b","type":"quantitative","scale":{"domain":[375,523],"nice":false,"zero":false},"axis":{"orient":"right","values":[400,450,500],"labels":false,"tickSize":-6,"title":null}}}},
  {"transform":[{"filter":"datum.t == 0"}],"mark":{"type":"point","opacity":0},
   "encoding":{"x":{"field":"t","type":"quantitative","scale":{"domain":[-304,333],"nice":false,"zero":false},"axis":{"orient":"top","values":[-300,-280,-260,-240,-220,-200,-180,-160,-140,-120,-100,-80,-60,-40,-20,0,20,40,60,80,100,120,140,160,180,200,220,240,260,280,300,320],"labels":false,"tickSize":-3,"title":null}},
    "y":{"field":"b","type":"quantitative","scale":{"domain":[375,523],"nice":false,"zero":false},"axis":{"orient":"right","values":[380,390,400,410,420,430,440,450,460,470,480,490,500,510,520],"labels":false,"tickSize":-3,"title":null}}}}
 ],
 "resolve":{"axis":{"x":"independent","y":"independent"}}
},
{"width":603,"height":113,
 "layer":[
  {"mark":{"type":"line","interpolate":"step","color":"#00ff00","strokeWidth":1.2,"clip":false},
   "encoding":{"x":{"field":"t","type":"quantitative","scale":{"domain":[-304,333],"nice":false,"zero":false},"axis":null},
    "y":{"field":"c","type":"quantitative","scale":{"domain":[480,641],"nice":false,"zero":false},"axis":{"orient":"left","values":[500,550,600],"ticks":false,"labelFontSize":14,"labelPadding":11,"labelOverlap":false,"labelFlush":false,"title":null}}}},
  {"transform":[{"filter":"datum.t == 0"}],"mark":{"type":"point","opacity":0},
   "encoding":{"x":{"field":"t","type":"quantitative","scale":{"domain":[-304,333],"nice":false,"zero":false},"axis":{"orient":"bottom","values":[-300,-200,-100,0,100,200,300],"labels":false,"tickSize":-6,"title":null}},
    "y":{"field":"c","type":"quantitative","scale":{"domain":[480,641],"nice":false,"zero":false},"axis":{"orient":"left","values":[500,550,600],"labels":false,"tickSize":-6,"title":null}}}},
  {"transform":[{"filter":"datum.t == 0"}],"mark":{"type":"point","opacity":0},
   "encoding":{"x":{"field":"t","type":"quantitative","scale":{"domain":[-304,333],"nice":false,"zero":false},"axis":{"orient":"bottom","values":[-300,-280,-260,-240,-220,-200,-180,-160,-140,-120,-100,-80,-60,-40,-20,0,20,40,60,80,100,120,140,160,180,200,220,240,260,280,300,320],"labels":false,"tickSize":-3,"title":null}},
    "y":{"field":"c","type":"quantitative","scale":{"domain":[480,641],"nice":false,"zero":false},"axis":{"orient":"left","values":[490,500,510,520,530,540,550,560,570,580,590,600,610,620,630,640],"labels":false,"tickSize":-3,"title":null}}}},
  {"transform":[{"filter":"datum.t == 0"}],"mark":{"type":"point","opacity":0},
   "encoding":{"x":{"field":"t","type":"quantitative","scale":{"domain":[-304,333],"nice":false,"zero":false},"axis":{"orient":"top","values":[-300,-200,-100,0,100,200,300],"labels":false,"tickSize":-6,"title":null}},
    "y":{"field":"c","type":"quantitative","scale":{"domain":[480,641],"nice":false,"zero":false},"axis":{"orient":"right","values":[500,550,600],"labels":false,"tickSize":-6,"title":null}}}},
  {"transform":[{"filter":"datum.t == 0"}],"mark":{"type":"point","opacity":0},
   "encoding":{"x":{"field":"t","type":"quantitative","scale":{"domain":[-304,333],"nice":false,"zero":false},"axis":{"orient":"top","values":[-300,-280,-260,-240,-220,-200,-180,-160,-140,-120,-100,-80,-60,-40,-20,0,20,40,60,80,100,120,140,160,180,200,220,240,260,280,300,320],"labels":false,"tickSize":-3,"title":null}},
    "y":{"field":"c","type":"quantitative","scale":{"domain":[480,641],"nice":false,"zero":false},"axis":{"orient":"right","values":[490,500,510,520,530,540,550,560,570,580,590,600,610,620,630,640],"labels":false,"tickSize":-3,"title":null}}}}
 ],
 "resolve":{"axis":{"x":"independent","y":"independent"}}
},
{"width":603,"height":111,
 "layer":[
  {"mark":{"type":"line","interpolate":"step","color":"#0000ff","strokeWidth":1.2,"clip":false},
   "encoding":{"x":{"field":"t","type":"quantitative","scale":{"domain":[-304,333],"nice":false,"zero":false},"axis":{"orient":"bottom","values":[-300,-200,-100,0,100,200,300],"ticks":false,"labelFontSize":15,"labelPadding":4,"labelFlush":false,"labelOverlap":false,"format":"d","title":null}},
    "y":{"field":"d","type":"quantitative","scale":{"domain":[646,858],"nice":false,"zero":false},"axis":{"orient":"left","values":[650,700,750,800,850],"ticks":false,"labelFontSize":14,"labelPadding":11,"labelOverlap":false,"labelFlush":false,"title":null}}}},
  {"transform":[{"filter":"datum.t == 0"}],"mark":{"type":"point","opacity":0},
   "encoding":{"x":{"field":"t","type":"quantitative","scale":{"domain":[-304,333],"nice":false,"zero":false},"axis":{"orient":"bottom","values":[-300,-200,-100,0,100,200,300],"labels":false,"tickSize":-6,"title":null}},
    "y":{"field":"d","type":"quantitative","scale":{"domain":[646,858],"nice":false,"zero":false},"axis":{"orient":"left","values":[650,700,750,800,850],"labels":false,"tickSize":-6,"title":null}}}},
  {"transform":[{"filter":"datum.t == 0"}],"mark":{"type":"point","opacity":0},
   "encoding":{"x":{"field":"t","type":"quantitative","scale":{"domain":[-304,333],"nice":false,"zero":false},"axis":{"orient":"bottom","values":[-300,-280,-260,-240,-220,-200,-180,-160,-140,-120,-100,-80,-60,-40,-20,0,20,40,60,80,100,120,140,160,180,200,220,240,260,280,300,320],"labels":false,"tickSize":-3,"title":null}},
    "y":{"field":"d","type":"quantitative","scale":{"domain":[646,858],"nice":false,"zero":false},"axis":{"orient":"left","values":[650,660,670,680,690,700,710,720,730,740,750,760,770,780,790,800,810,820,830,840,850],"labels":false,"tickSize":-3,"title":null}}}},
  {"transform":[{"filter":"datum.t == 0"}],"mark":{"type":"point","opacity":0},
   "encoding":{"x":{"field":"t","type":"quantitative","scale":{"domain":[-304,333],"nice":false,"zero":false},"axis":{"orient":"top","values":[-300,-200,-100,0,100,200,300],"labels":false,"tickSize":-6,"title":null}},
    "y":{"field":"d","type":"quantitative","scale":{"domain":[646,858],"nice":false,"zero":false},"axis":{"orient":"right","values":[650,700,750,800,850],"labels":false,"tickSize":-6,"title":null}}}},
  {"transform":[{"filter":"datum.t == 0"}],"mark":{"type":"point","opacity":0},
   "encoding":{"x":{"field":"t","type":"quantitative","scale":{"domain":[-304,333],"nice":false,"zero":false},"axis":{"orient":"top","values":[-300,-280,-260,-240,-220,-200,-180,-160,-140,-120,-100,-80,-60,-40,-20,0,20,40,60,80,100,120,140,160,180,200,220,240,260,280,300,320],"labels":false,"tickSize":-3,"title":null}},
    "y":{"field":"d","type":"quantitative","scale":{"domain":[646,858],"nice":false,"zero":false},"axis":{"orient":"right","values":[650,660,670,680,690,700,710,720,730,740,750,760,770,780,790,800,810,820,830,840,850],"labels":false,"tickSize":-3,"title":null}}}}
 ],
 "resolve":{"axis":{"x":"independent","y":"independent"}}
}
]
}
